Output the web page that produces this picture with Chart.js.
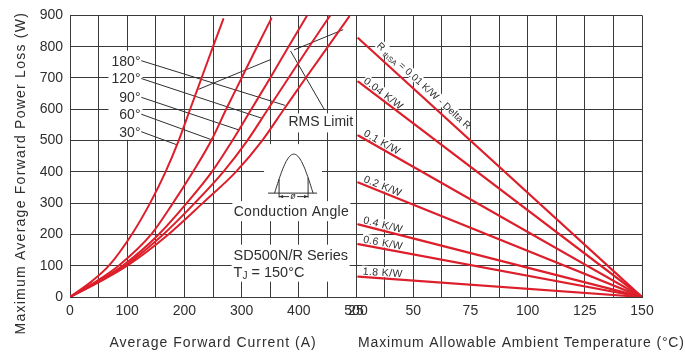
<!DOCTYPE html>
<html><head><meta charset="utf-8">
<script src="https://cdn.jsdelivr.net/npm/chart.js@4.4.1/dist/chart.umd.min.js"></script>
<style>
html,body{margin:0;padding:0;background:#fff;overflow:hidden}
canvas{display:block}
</style></head>
<body>
<canvas id="chart" width="685" height="355"></canvas>
<script>
// ---------- values ----------
const curveLabels = ['30°', '60°', '90°', '120°', '180°'];
const power30   = [0, 50, 100, 200, 300, 400, 500, 600, 700, 800, 888];
const current30 = [0, 38, 68, 108, 140, 167, 190, 210, 230, 250, 268];
const power60   = [0, 50, 100, 200, 300, 400, 500, 600, 700, 800, 890];
const current60 = [0, 46, 85, 142, 180, 215, 247, 273, 300, 327, 352];
const power90   = [0, 50, 100, 200, 300, 400, 500, 600, 700, 800, 898];
const current90 = [0, 49, 92, 155, 204, 248, 284, 317, 350, 382, 414];
const power120  = [0, 50, 100, 200, 300, 400, 500, 600, 700, 800, 900];
const current120= [0, 51, 96, 163, 218, 268, 310, 346, 382, 418, 455];
const power180  = [0, 50, 100, 200, 300, 400, 500, 600, 700, 800, 896];
const current180= [0, 53, 100, 172, 232, 290, 336, 374, 412, 451, 488];

// leader lines from the angle labels to the curves (30°..180°)
const leaderStartCurrent = 125;
const leaderStartPower = [528, 584, 638, 698, 755];
const leaderEndCurrent = [186, 247, 295, 336, 375];
const leaderEndPower   = [487, 503, 534, 571, 613];

// RMS limit marks
const rmsSegCurrent = [[225, 351], [392, 477]];
const rmsSegPower   = [[664, 759], [790, 854]];
const rmsPointerCurrent = [444, 386];
const rmsPointerPower   = [601, 785];

// right panel: thermal resistance lines
const rthLabels = ['0.01', '0.04', '0.1', '0.2', '0.4', '0.6', '1.8'];
const rthStartTemp = 26;
const rthStartPower = [827, 688, 516, 366, 232, 169, 65];
const tjMax = 150;

// axis ranges / ticks
const currentRange = [0, 500], currentStep = 50, currentLabelStep = 100;
const tempRange = [25, 150], tempStep = 12.5, tempLabelStep = 25;
const powerRange = [0, 900], powerStep = 100;

// ---------- styling ----------
const RED = '#dc1f2b', INK = '#2e2e2e', GRID = '#3a3a3a';
const FONT = "'Liberation Sans', Arial, Helvetica, sans-serif";

const pts = (xs, ys) => xs.map((v, i) => ({x: v, y: ys[i]}));
const curves = [[current30, power30], [current60, power60], [current90, power90], [current120, power120], [current180, power180]];
const datasets = [];
curves.forEach(([c, p], i) => datasets.push({
  label: curveLabels[i], data: pts(c, p), xAxisID: 'x', yAxisID: 'y',
  borderColor: RED, borderWidth: 2, pointRadius: 0, cubicInterpolationMode: 'monotone', order: 1
}));
rthStartPower.forEach((p, i) => datasets.push({
  label: rthLabels[i] + ' K/W', data: [{x: rthStartTemp, y: p}, {x: tjMax, y: 0}], xAxisID: 'x2', yAxisID: 'y',
  borderColor: RED, borderWidth: 2.2, pointRadius: 0, order: 1
}));
leaderStartPower.forEach((p, i) => datasets.push({
  label: 'leader', data: [{x: leaderStartCurrent, y: p}, {x: leaderEndCurrent[i], y: leaderEndPower[i]}],
  xAxisID: 'x', yAxisID: 'y', borderColor: INK, borderWidth: 1, pointRadius: 0, order: 2
}));
rmsSegCurrent.forEach((c, i) => datasets.push({
  label: 'RMS', data: pts(c, rmsSegPower[i]), xAxisID: 'x', yAxisID: 'y',
  borderColor: INK, borderWidth: 1, pointRadius: 0, order: 2
}));
datasets.push({label: 'RMS pointer', data: pts(rmsPointerCurrent, rmsPointerPower), xAxisID: 'x', yAxisID: 'y',
  borderColor: INK, borderWidth: 1, pointRadius: 0, order: 2});

function txt(ctx, s, x, y, size, align, spacing) {
  ctx.font = size + 'px ' + FONT;
  ctx.textAlign = align || 'left';
  ctx.letterSpacing = spacing || '0px';
  ctx.fillText(s, x, y);
  ctx.letterSpacing = '0px';
}

function labelFrame(chart, i) {
  const X2 = v => chart.scales.x2.getPixelForValue(v), Y = v => chart.scales.y.getPixelForValue(v);
  const x0 = X2(rthStartTemp), y0 = Y(rthStartPower[i]), x1 = X2(tjMax), y1 = Y(0);
  const a = Math.atan2(y1 - y0, x1 - x0);
  const d = i === 0 ? 19 : 4, off = i === 0 ? 6 : 2.5;
  return {a, x: x0 + d * Math.cos(a) + off * Math.sin(a), y: y0 + d * Math.sin(a) - off * Math.cos(a)};
}

const deco = {
  id: 'deco',
  beforeDatasetsDraw(chart) {
    const ctx = chart.ctx, X = v => chart.scales.x.getPixelForValue(v), Y = v => chart.scales.y.getPixelForValue(v);
    ctx.save();
    ctx.fillStyle = '#fff';
    // angle label column
    const lx = X(leaderStartCurrent);
    ctx.fillRect(lx - 33, Y(leaderStartPower[4]) - 10, 34, Y(leaderStartPower[0]) - Y(leaderStartPower[4]) + 18);
    // RMS label
    ctx.fillRect(X(382) - 2, Y(558) - 9, 67, 19);
    // waveform inset + caption
    ctx.fillRect(X(390) - 29, Y(332) - 49, 58, 57);
    ctx.fillRect(X(387) - 59, Y(332) + 8, 118, 20);
    // series caption
    ctx.fillRect(X(286) - 2, Y(132) - 11, 118, 37);
    // right panel label backgrounds
    rthStartPower.forEach((p, i) => {
      const f = labelFrame(chart, i);
      ctx.save(); ctx.translate(f.x, f.y); ctx.rotate(f.a);
      ctx.fillRect(-1, -9, i === 0 ? 120 : 42, 10);
      ctx.restore();
    });
    ctx.restore();
  },
  afterDatasetsDraw(chart) {
    const ctx = chart.ctx, X = v => chart.scales.x.getPixelForValue(v), Y = v => chart.scales.y.getPixelForValue(v);
    ctx.save();
    ctx.fillStyle = INK; ctx.textBaseline = 'middle';
    // angle labels
    leaderStartPower.forEach((p, i) => txt(ctx, curveLabels[i], X(leaderStartCurrent) - 1, Y(p) + 1, 14, 'right'));
    // RMS
    txt(ctx, 'RMS Limit', X(382), Y(558), 14, 'left');
    // inset waveform
    const bx = X(390), by = Y(332);
    ctx.strokeStyle = INK; ctx.lineWidth = 1;
    ctx.beginPath(); ctx.moveTo(bx - 25, by); ctx.lineTo(bx + 24, by); ctx.stroke();
    const l = bx - 18.5, r = bx + 20, h = 39;
    const hAt = x => h * Math.sin(Math.PI * (x - l) / (r - l));
    ctx.beginPath();
    for (let i = 0; i <= 50; i++) {
      const x = l + (r - l) * i / 50, y = by - hAt(x);
      i ? ctx.lineTo(x, y) : ctx.moveTo(x, y);
    }
    ctx.stroke();
    const mL = bx - 14, mR = bx + 15, ay = by + 3.5;
    ctx.beginPath();
    ctx.moveTo(mL, ay + 1); ctx.lineTo(mL, by - hAt(mL));
    ctx.moveTo(mR, ay + 1); ctx.lineTo(mR, by - hAt(mR));
    ctx.moveTo(mL, ay); ctx.lineTo(bx - 4, ay);
    ctx.moveTo(bx + 4, ay); ctx.lineTo(mR, ay);
    ctx.stroke();
    ctx.beginPath();
    ctx.moveTo(mL, ay); ctx.lineTo(mL + 4, ay - 1.6); ctx.lineTo(mL + 4, ay + 1.6); ctx.closePath();
    ctx.moveTo(mR, ay); ctx.lineTo(mR - 4, ay - 1.6); ctx.lineTo(mR - 4, ay + 1.6); ctx.closePath();
    ctx.fill();
    ctx.font = 'italic 9px ' + FONT; ctx.textAlign = 'center';
    ctx.fillText('ø', bx, ay);
    txt(ctx, 'Conduction Angle', X(387), Y(271), 14, 'center', '0.3px');
    txt(ctx, 'SD500N/R Series', X(286), Y(132), 14.5, 'left');
    // T_J = 150°C
    let tx = X(286), ty = Y(78);
    ctx.font = '14.5px ' + FONT; ctx.textAlign = 'left';
    ctx.fillText('T', tx, ty); tx += ctx.measureText('T').width;
    ctx.font = '10px ' + FONT; ctx.fillText('J', tx, ty + 4); tx += ctx.measureText('J').width;
    ctx.font = '14.5px ' + FONT; ctx.fillText(' = 150°C', tx, ty);
    // right-panel labels
    ctx.textBaseline = 'alphabetic';
    rthStartPower.forEach((p, i) => {
      const f = labelFrame(chart, i);
      ctx.save(); ctx.translate(f.x, f.y); ctx.rotate(f.a);
      ctx.textAlign = 'left';
      if (i === 0) {
        let cx = 0;
        ctx.font = '10px ' + FONT; ctx.fillText('R', cx, 0); cx += ctx.measureText('R ').width;
        ctx.font = '7.5px ' + FONT; ctx.fillText('thSA', cx, 2.5); cx += ctx.measureText('thSA').width;
        ctx.font = '10px ' + FONT; ctx.letterSpacing = '0.1px';
        ctx.fillText(' = ' + rthLabels[0] + ' K/W - Delta R', cx, 0);
        ctx.letterSpacing = '0px';
      } else {
        ctx.font = '10.5px ' + FONT; ctx.letterSpacing = '0.4px';
        ctx.fillText(rthLabels[i] + ' K/W', 0, 0);
        ctx.letterSpacing = '0px';
      }
      ctx.restore();
    });
    ctx.restore();
  },
  afterDraw(chart) {
    const ctx = chart.ctx, a = chart.chartArea, X = v => chart.scales.x.getPixelForValue(v);
    const X2 = v => chart.scales.x2.getPixelForValue(v);
    ctx.save();
    ctx.fillStyle = INK; ctx.textBaseline = 'middle';
    txt(ctx, 'Average Forward Current (A)', (X(currentRange[0]) + X(currentRange[1])) / 2, a.bottom + 46, 14, 'center', '1px');
    txt(ctx, 'Maximum Allowable Ambient Temperature (°C)', X2(tempRange[0]) + 2, a.bottom + 46, 14, 'left', '0.85px');
    ctx.translate(21, (a.top + a.bottom) / 2 + 17);
    ctx.rotate(-Math.PI / 2);
    txt(ctx, 'Maximum Average Forward Power Loss (W)', 0, 0, 14, 'center', '1.25px');
    ctx.restore();
  }
};

const tickFont = {family: FONT, size: 14};
new Chart(document.getElementById('chart'), {
  type: 'line',
  data: {datasets},
  plugins: [deco],
  options: {
    responsive: false, animation: false, devicePixelRatio: 1,
    layout: {padding: {top: 12, right: 43, left: 0, bottom: 0}},
    plugins: {legend: {display: false}, tooltip: {enabled: false}},
    elements: {line: {borderCapStyle: 'round'}},
    scales: {
      x: {
        type: 'linear', position: 'bottom', stack: 'bottom', stackWeight: 1,
        min: currentRange[0], max: currentRange[1],
        ticks: {stepSize: currentStep, autoSkip: false, maxRotation: 0, padding: 6, color: INK, font: tickFont,
          callback: v => (v % currentLabelStep === 0 ? String(v) : '')},
        grid: {color: GRID, lineWidth: 1, drawTicks: false},
        border: {color: GRID, width: 1},
        afterFit: s => { s.height = 58; }
      },
      x2: {
        type: 'linear', position: 'bottom', stack: 'bottom', stackWeight: 1,
        min: tempRange[0], max: tempRange[1],
        ticks: {stepSize: tempStep, autoSkip: false, maxRotation: 0, padding: 6, color: INK, font: tickFont,
          callback: v => (v % tempLabelStep === 0 ? String(v) : '')},
        grid: {color: GRID, lineWidth: 1, drawTicks: false},
        border: {color: GRID, width: 1},
        afterFit: s => { s.height = 58; }
      },
      y: {
        type: 'linear', position: 'left', min: powerRange[0], max: powerRange[1],
        ticks: {stepSize: powerStep, padding: 7, color: INK, font: tickFont},
        grid: {color: GRID, lineWidth: 1, drawTicks: false},
        border: {color: GRID, width: 1},
        afterFit: s => { s.width = 70; }
      }
    }
  }
});
</script>
</body></html>
